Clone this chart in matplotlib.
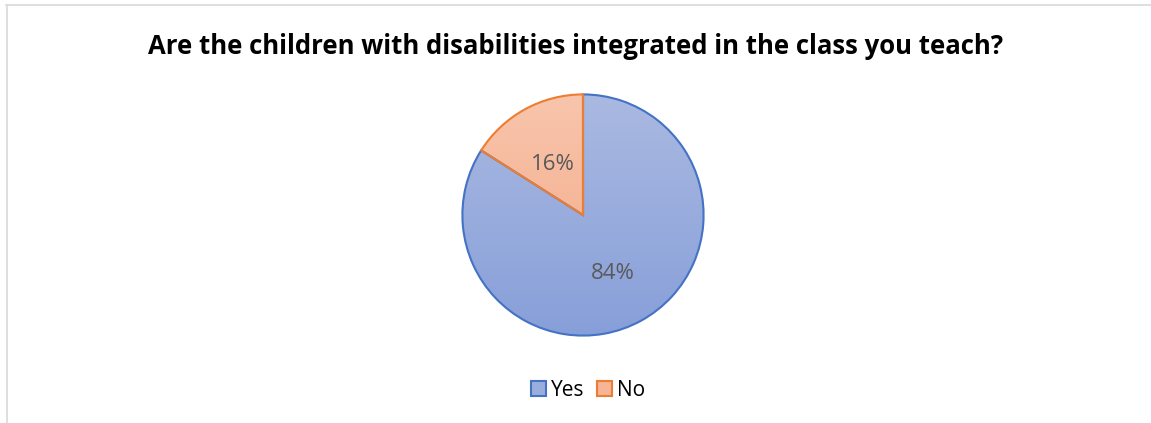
import numpy as np
import matplotlib
matplotlib.use("Agg")
import matplotlib.pyplot as plt
import matplotlib.transforms as mtransforms
from matplotlib.patches import Patch
from matplotlib.lines import Line2D
from matplotlib.colors import LinearSegmentedColormap

# Survey answers
categories = ["Yes", "No"]
shares = [84, 16]
edge_colors = ["#4472C4", "#ED7D31"]
grad_top = ["#AAB9E1", "#F8C5AC"]
grad_bottom = ["#879FD9", "#F4A784"]
legend_faces = ["#9AAEDD", "#F6B597"]
title = "Are the children with disabilities integrated in the class you teach?"

W, H = 1151, 423
fig = plt.figure(figsize=(W / 100, H / 100), dpi=100)
fig.patch.set_facecolor("white")

# chart frame (left and top edges visible)
fig.add_artist(Line2D([6.5 / W, 6.5 / W], [0, 1 - 5 / H], transform=fig.transFigure,
                      color="#D9D9D9", lw=1.2))
fig.add_artist(Line2D([6 / W, 1], [1 - 5.5 / H, 1 - 5.5 / H], transform=fig.transFigure,
                      color="#D9D9D9", lw=1.2))

cx, cy, r = 583, 215, 123
ax = fig.add_axes([(cx - r) / W, (H - cy - r) / H, 2 * r / W, 2 * r / H])

wedges, texts, autotexts = ax.pie(
    shares, startangle=90, counterclock=False,
    autopct=lambda p: f"{p:.0f}%", pctdistance=0.52,
    wedgeprops=dict(linewidth=1.5),
    textprops=dict(color="#595959", fontsize=16, family="Open Sans"),
)
ax.set_xlim(-1.02, 1.02)
ax.set_ylim(-1.02, 1.02)
ax.set_aspect("equal")
ax.axis("off")

# vertical gradient fill for each slice
for w, ec, top, bot in zip(wedges, edge_colors, grad_top, grad_bottom):
    cmap = LinearSegmentedColormap.from_list("g", [bot, top])
    grad = np.linspace(0, 1, 256).reshape(-1, 1)
    im = ax.imshow(grad, extent=[-1, 1, -1, 1], origin="lower", cmap=cmap,
                   aspect="auto", zorder=w.get_zorder() - 0.1)
    im.set_clip_path(w)
    w.set_facecolor("none")
    w.set_edgecolor(ec)

label_shift = mtransforms.ScaledTranslation(0, -4 / 100, fig.dpi_scale_trans)
for t in autotexts:
    t.set_zorder(5)
    t.set_transform(t.get_transform() + label_shift)

fig.text(575.5 / W, 1 - 47 / H, title, ha="center", va="center",
         fontsize=18.5, fontweight="bold", family="Open Sans", color="#000000")

handles = [Patch(facecolor=f, edgecolor=e, linewidth=1.5) for f, e in zip(legend_faces, edge_colors)]
fig.legend(handles, categories, loc="center", bbox_to_anchor=(588 / W, 1 - 390 / H),
           ncol=2, frameon=False, handlelength=0.7, handleheight=0.7,
           handletextpad=0.25, columnspacing=0.6,
           prop=dict(family="Open Sans", size=15))

fig.savefig("out.png", dpi=100, facecolor="white")
